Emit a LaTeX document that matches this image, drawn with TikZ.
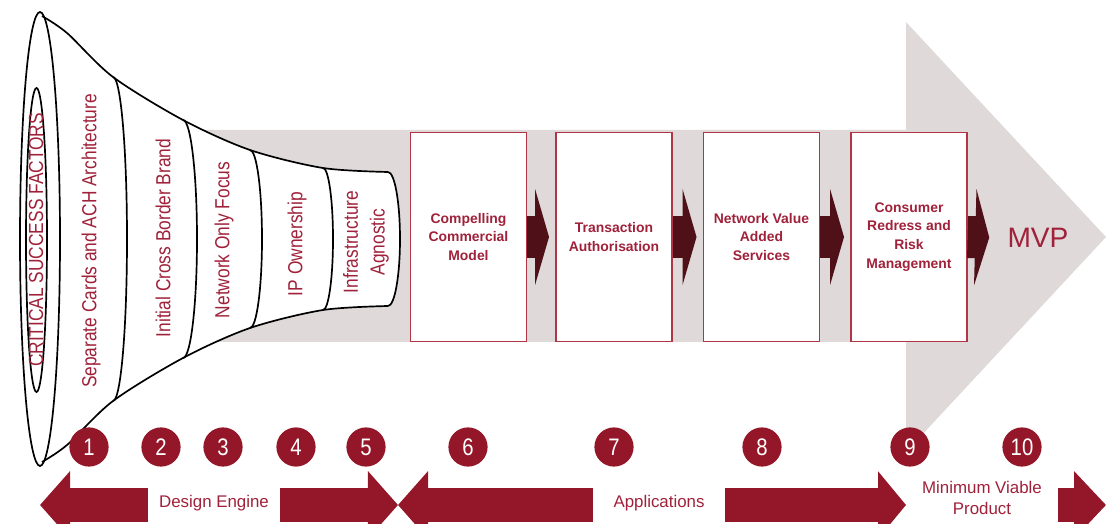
\documentclass[tikz,border=0pt]{standalone}
\usepackage{fontspec}
\setmainfont{Liberation Sans}
\newfontfamily\narrowfont[FakeStretch=0.85]{Liberation Sans}
\usetikzlibrary{arrows.meta}

\definecolor{bgrey}{HTML}{DFD9D9}
\definecolor{darkred}{HTML}{941629}
\definecolor{txtred}{HTML}{A0213A}
\definecolor{boxred}{HTML}{B03645}
\definecolor{maroon}{HTML}{501018}

\tikzset{
  funneltext/.style={text=txtred, rotate=90, align=center, inner sep=0pt,
    font=\narrowfont\fontsize{14.5}{19}\selectfont},
  stagebox/.style={draw=boxred, line width=0.8pt, fill=white, minimum width=2.9cm,
    minimum height=5.225cm, text=txtred, align=center,
    font=\bfseries\fontsize{9.9}{13.4}\selectfont},
  stagearrow/.style={maroon, line width=1.05cm,
    -{Triangle[length=0.35cm, width=2.4cm]}, shorten >=0.16cm},
  num/.style={circle, fill=darkred, minimum size=0.98cm, inner sep=0pt, text=white,
    font=\narrowfont\fontsize{17}{17}\selectfont},
  band/.style={darkred, line width=0.825cm},
  bandlabel/.style={fill=white, text=txtred, align=center, minimum width=3.275cm,
    minimum height=0.95cm, font=\fontsize{12}{15}\selectfont}
}

\begin{document}
\begin{tikzpicture}[x=0.025cm, y=-0.025cm]
    \useasboundingbox (0,0) rectangle (1106,524);
    \clip (0,0) rectangle (1106,524);
    % big grey arrow
    \fill[bgrey] (150,130) -- (906,130) -- (906,22) -- (1106,237) -- (906,452) -- (906,342) -- (150,342) -- cycle;
    % funnel
    \fill[white] plot[smooth] coordinates {(42,16) (67,33) (113,77) (183,120) (250,150) (323,168) (388,172)}
        arc[start angle=-90, end angle=90, x radius=12, y radius=67]
        -- plot[smooth] coordinates {(388,306) (323,310) (250,328) (183,358) (113,401) (67,445) (42,462)}
        arc[start angle=90, end angle=270, x radius=20, y radius=226];
    \draw[line width=1.2pt] (40,239) ellipse (20 and 227);
    \draw[line width=1.2pt] (36.5,240) ellipse (10.5 and 152);
    \draw[line width=1.2pt] plot[smooth] coordinates {(42,16) (67,33) (113,77) (183,120) (250,150) (323,168) (388,172)};
    \draw[line width=1.2pt] plot[smooth] coordinates {(42,462) (67,445) (113,401) (183,358) (250,328) (323,310) (388,306)};
    \draw[line width=1.2pt] (113,77) arc[start angle=-90, end angle=90, x radius=14, y radius=162];
    \draw[line width=1.2pt] (183,120) arc[start angle=-90, end angle=90, x radius=14, y radius=119];
    \draw[line width=1.2pt] (250,150) arc[start angle=-90, end angle=90, x radius=12, y radius=89];
    \draw[line width=1.2pt] (323,168) arc[start angle=-90, end angle=90, x radius=10, y radius=71];
    \draw[line width=1.2pt] (388,172) arc[start angle=-90, end angle=90, x radius=12, y radius=67];
    \node[funneltext] (csf) at (36,240) {CRITICAL SUCCESS FACTORS};
    \node[funneltext] (sep) at (91,241) {Separate Cards and ACH Architecture};
    \node[funneltext] (icb) at (163,238) {Initial Cross Border Brand};
    \node[funneltext] (nof) at (224,240) {Network Only Focus};
    \node[funneltext] (ipo) at (297,244) {IP Ownership};
    \node[funneltext] (ina) at (366,242) {Infrastructure\\Agnostic};
    % application stages
    \node[stagebox] (ccm) at (468.5,237) {Compelling\\Commercial\\Model};
    \node[stagebox] (tra) at (614,237) {Transaction\\Authorisation};
    \node[stagebox] (nva) at (761.5,237) {Network Value\\Added\\Services};
    \node[stagebox] (crr) at (909,237) {Consumer\\Redress and\\Risk\\Management};
    \node[text=txtred, inner sep=0pt, font=\fontsize{20}{20}\selectfont] (mvp) at (1038,238) {MVP};
    \draw[stagearrow] (ccm.east) -- (tra.west);
    \draw[stagearrow] (tra.east) -- (nva.west);
    \draw[stagearrow] (nva.east) -- (crr.west);
    \draw[stagearrow, shorten >=0.45cm] (crr.east) -- (mvp.west);
    % numbered steps
    \foreach \i/\x in {1/89, 2/161, 3/223, 4/296, 5/366, 6/468, 7/614, 8/762, 9/910, 10/1022}
        \node[num] (n\i) at (\x,447) {\i};
    % bottom bands
    \coordinate (de-l) at (40,505);
    \coordinate (de-r) at (398,505);
    \coordinate (ap-r) at (906,505);
    \coordinate (mv-l) at (1058,505);
    \coordinate (mv-r) at (1106,505);
    \draw[band, {Triangle[length=0.75cm, width=1.65cm]}-{Triangle[length=0.75cm, width=1.65cm]}] (de-l) -- (de-r);
    \draw[band, {Triangle[length=0.75cm, width=1.65cm]}-{Triangle[length=0.7cm, width=1.65cm]}] (de-r) -- (ap-r);
    \draw[band, -{Triangle[length=0.8cm, width=1.65cm]}] (mv-l) -- (mv-r);
    \node[bandlabel] (de) at (214,503) {Design Engine};
    \node[bandlabel] (ap) at (659,503) {Applications};
    \node[bandlabel, minimum width=3.8cm] (mv) at (982,498) {Minimum Viable\\Product};
\end{tikzpicture}
\end{document}
